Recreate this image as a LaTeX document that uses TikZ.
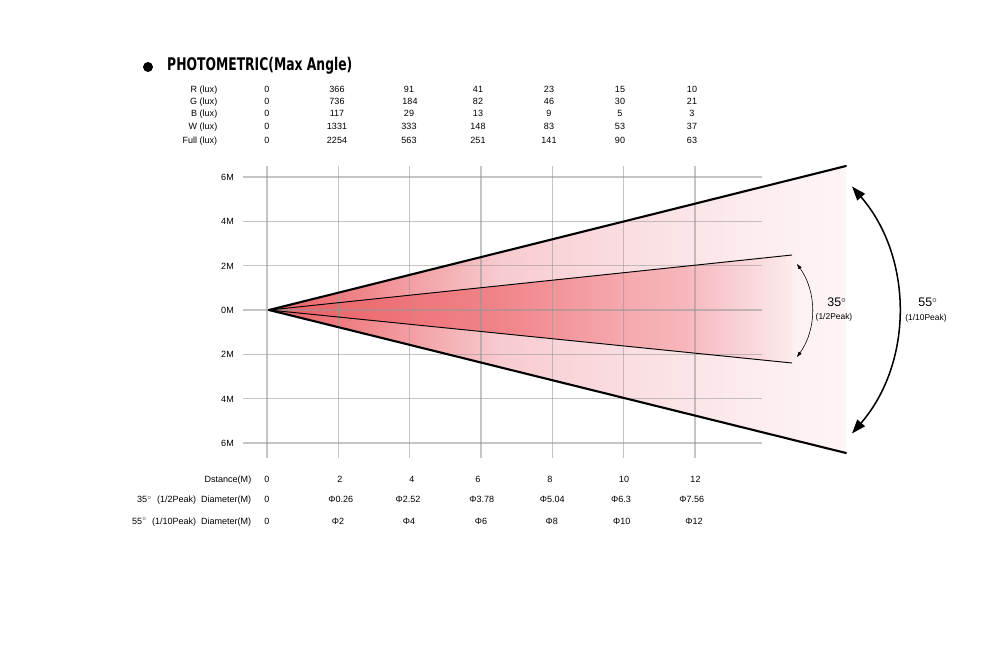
\documentclass[tikz,border=0pt]{standalone}
\usepackage{fontspec}
\setmainfont{Liberation Sans}
\newfontfamily\titlefont{DejaVu Sans}
\usetikzlibrary{arrows.meta}
\definecolor{o0}{RGB}{232,96,100}
\definecolor{o1}{RGB}{239,128,132}
\definecolor{o2}{RGB}{247,203,207}
\definecolor{o3}{RGB}{250,220,224}
\definecolor{o4}{RGB}{251,228,231}
\definecolor{o5}{RGB}{253,240,242}
\definecolor{o6}{RGB}{254,245,246}
\definecolor{i0}{RGB}{232,96,100}
\definecolor{i1}{RGB}{236,108,113}
\definecolor{i2}{RGB}{240,132,137}
\definecolor{i3}{RGB}{245,168,173}
\definecolor{i4}{RGB}{246,182,187}
\definecolor{i5}{RGB}{250,220,224}
\definecolor{i6}{RGB}{252,234,236}
\definecolor{gridgray}{RGB}{150,150,150}
\pgfdeclarehorizontalshading{outershade}{100bp}{color(0bp)=(o0); color(25bp)=(o0); color(32bp)=(o1); color(45bp)=(o2); color(55bp)=(o3); color(61bp)=(o4); color(70bp)=(o5); color(75bp)=(o6); color(100bp)=(o6)}
\pgfdeclarehorizontalshading{innershade}{100bp}{color(0bp)=(i0); color(25bp)=(i0); color(33bp)=(i1); color(47bp)=(i2); color(58.5bp)=(i3); color(64.5bp)=(i4); color(72bp)=(i5); color(75bp)=(i6); color(100bp)=(i6)}
\tikzset{
  txt/.style={font=\fontsize{7.7}{9}\selectfont, inner sep=0pt, anchor=base},
  rlab/.style={txt, anchor=base east},
  gridline/.style={draw=gridgray, line width=1.1pt, draw opacity=0.55},
  outerline/.style={line width=1.8pt, line cap=round},
  innerline/.style={line width=0.8pt},
  bigarrow/.style={line width=1.3pt, {Triangle[length=12pt,width=8.5pt]}-{Triangle[length=12pt,width=8.5pt]}},
  smallarrow/.style={line width=0.5pt, {Triangle[length=4.5pt,width=3pt]}-{Triangle[length=4.5pt,width=3pt]}},
}
\begin{document}
\begin{tikzpicture}[x=0.03cm, y=-0.03cm]
\useasboundingbox (0,0) rectangle (1000,650);
% title
\node[circle, fill=black, inner sep=0pt, minimum size=8.5pt] (bullet) at (148,67) {};
\node[anchor=west, inner sep=0pt] (title) at (167,65.5) {\titlefont\bfseries\resizebox{158pt}{11.3pt}{PHOTOMETRIC(Max Angle)}};
% lux table
\foreach \lab/\yy/\vals [count=\r] in {R (lux)/92.3/{0,366,91,41,23,15,10},
  G (lux)/105/{0,736,184,82,46,30,21},
  B (lux)/116.6/{0,117,29,13,9,5,3},
  W (lux)/130/{0,1331,333,148,83,53,37},
  Full (lux)/143.3/{0,2254,563,251,141,90,63}}{
  \node[rlab] (lux\r) at (217.5,\yy) {\lab};
  \foreach \v/\xx [count=\c] in \vals {}
}
\foreach \yy/\vals [count=\r] in {92.3/{0/267,366/337,91/409,41/478,23/549,15/620,10/692},
  105/{0/267,736/337,184/410,82/478,46/549,30/620,21/692},
  116.6/{0/267,117/337,29/409,13/478,9/549,5/620,3/692},
  130/{0/267,1331/337,333/409,148/478,83/549,53/620,37/692},
  143.3/{0/267,2254/337,563/409,251/478,141/549,90/620,63/692}}{
  \foreach \v/\xx [count=\c] in \vals {
    \node[txt] (v\r-\c) at (\xx,\yy) {\v};
  }
}
% cone fills
\coordinate (apex) at (269,310);
\coordinate (ot) at (846,166);
\coordinate (ob) at (846,453);
\coordinate (it) at (792,255);
\coordinate (ib) at (792,363);
\shade[shading=outershade] (apex) -- (ot) -- (ob) -- cycle;
\shade[shading=innershade] (apex) -- (it) -- (ib) -- cycle;
% grid
\foreach \yy/\lab [count=\k] in {177/6M,221.3/4M,265.7/2M,310/0M,354.3/2M,398.7/4M,443/6M}{
  \draw[gridline] (243,\yy) -- (762,\yy);
  \node[rlab] (ylab\k) at (234,\yy+3.3) {\lab};
}
\foreach \xx in {267,338.3,409.7,481,552.3,623.7,695}{
  \draw[gridline] (\xx,166) -- (\xx,458);
}
% cone lines
\draw[outerline] (apex) -- (ot);
\draw[outerline] (apex) -- (ob);
\draw[innerline] (apex) -- (it);
\draw[innerline] (apex) -- (ib);
% angle arrows
\coordinate (a55t) at (852,186.5);
\coordinate (a55b) at (852,433.5);
\coordinate (a35t) at (797,264);
\coordinate (a35b) at (797,357);
\draw[bigarrow] (a55t) .. controls (913.4,257.5) and (913.4,362.5) .. (a55b);
\draw[smallarrow] (a35t) .. controls (817,291.8) and (817,329.2) .. (a35b);
\node[inner sep=0pt, font=\fontsize{10.6}{12}\selectfont] (deg35) at (837,302.5) {35$^{\circ}$};
\node[inner sep=0pt, font=\fontsize{7.2}{9}\selectfont] (pk35) at (834,317.5) {(1/2Peak)};
\node[inner sep=0pt, font=\fontsize{10.6}{12}\selectfont] (deg55) at (928,302.5) {55$^{\circ}$};
\node[inner sep=0pt, font=\fontsize{7.2}{9}\selectfont] (pk55) at (926,318) {(1/10Peak)};
% bottom table
\node[rlab] (dlab) at (251.5,482.3) {Dstance(M)};
\node[rlab] (d35lab) at (251.5,502.6) {35$^{\circ}$\ \ (1/2Peak)\ \ Diameter(M)};
\node[rlab] (d55lab) at (251.5,524) {55$^{\circ}$\ \ (1/10Peak)\ \ Diameter(M)};
\foreach \v/\xx [count=\c] in {0/267,2/340,4/412,6/478,8/550,10/624,12/695.5}{
  \node[txt] (dist\c) at (\xx,482.3) {\v};
}
\foreach \v/\xx [count=\c] in {0/267,Φ0.26/340.7,Φ2.52/408,Φ3.78/481.7,Φ5.04/552.3,Φ6.3/621,Φ7.56/691.7}{
  \node[txt] (dia35-\c) at (\xx,502.6) {\v};
}
\foreach \v/\xx [count=\c] in {0/267,Φ2/338,Φ4/409,Φ6/481,Φ8/551.7,Φ10/621.7,Φ12/694}{
  \node[txt] (dia55-\c) at (\xx,524) {\v};
}
\end{tikzpicture}
\end{document}
